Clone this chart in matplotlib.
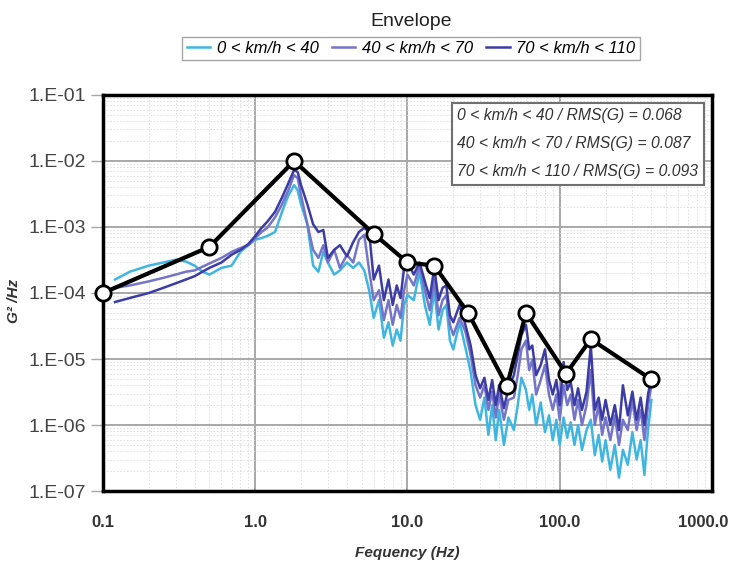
import matplotlib
matplotlib.use("Agg")
import matplotlib.pyplot as plt
from matplotlib.ticker import FixedLocator, LogLocator, NullFormatter
from matplotlib.transforms import ScaledTranslation

plt.rcParams['font.family'] = ['Liberation Sans', 'DejaVu Sans']

# frequency grid shared by the three speed bands (Hz)
freq = [0.12, 0.15, 0.2, 0.25, 0.3, 0.35, 0.4, 0.45, 0.5, 0.6,
        0.7, 0.8, 0.9, 1.0, 1.1, 1.2, 1.35, 1.5, 1.65, 1.8,
        1.9, 2.0, 2.2, 2.4, 2.6, 2.8, 3.0, 3.3, 3.6, 4.0,
        4.4, 4.8, 5.2, 5.6, 6.0, 6.5, 7.0, 7.5, 8.0, 8.5,
        9.0, 9.5, 10, 11, 12, 13, 14, 15, 16, 17,
        18, 19, 20, 22, 24, 26, 28, 30, 32, 34,
        36, 38, 40, 43, 46, 50, 53, 56, 60, 63,
        66, 70, 75, 80, 85, 90, 95, 100, 106, 112,
        118, 125, 132, 140, 150, 160, 170, 180, 190, 200,
        215, 230, 245, 260, 280, 300, 320, 340, 360, 380,
        400]

psd_0_40 = [1.6e-4, 2.1e-4, 2.6e-4, 2.9e-4, 3.2e-4, 3.0e-4, 2.6e-4, 2.1e-4, 1.9e-4, 2.4e-4,
            2.6e-4, 4.2e-4, 5.3e-4, 6.4e-4, 6.8e-4, 7.3e-4, 8.4e-4, 1.7e-3, 3.0e-3, 4.3e-3,
            3.6e-3, 2.2e-3, 1.1e-3, 2.6e-4, 2.1e-4, 4.2e-4, 2.9e-4, 1.9e-4, 2.2e-4, 2.9e-4,
            2.4e-4, 2.9e-4, 2.2e-4, 1.1e-4, 4.2e-5, 7.8e-5, 2.1e-5, 3.6e-5, 1.6e-5, 2.8e-5,
            1.9e-5, 6.6e-5, 9.3e-5, 7.8e-5, 2.1e-4, 6.6e-5, 3.3e-5, 1.1e-4, 2.8e-5, 5.5e-5,
            6.6e-5, 1.9e-5, 1.4e-5, 3.6e-5, 1.5e-5, 6.4e-6, 2.0e-6, 1.2e-6, 2.6e-6, 7.1e-7,
            2.0e-6, 5.9e-7, 1.7e-6, 5.0e-7, 1.3e-6, 8.4e-7, 2.0e-6, 5.2e-6, 3.4e-6, 1.7e-6,
            2.9e-6, 1.0e-6, 2.2e-6, 7.8e-7, 1.4e-6, 5.9e-7, 1.2e-6, 5.0e-7, 1.3e-6, 6.4e-7,
            1.1e-6, 5.0e-7, 1.0e-6, 4.2e-7, 8.4e-7, 1.2e-6, 3.5e-7, 7.1e-7, 2.8e-7, 5.9e-7,
            2.1e-7, 5.0e-7, 1.6e-7, 4.2e-7, 2.5e-7, 7.8e-7, 3.0e-7, 5.9e-7, 1.75e-7, 8.4e-7,
            2.4e-6]

psd_40_70 = [1.2e-4, 1.3e-4, 1.5e-4, 1.7e-4, 1.9e-4, 2.1e-4, 2.2e-4, 2.5e-4, 2.8e-4, 3.4e-4,
             4.2e-4, 4.8e-4, 5.3e-4, 6.8e-4, 8.4e-4, 9.7e-4, 1.4e-3, 2.2e-3, 3.6e-3, 6.1e-3,
             5.5e-3, 3.0e-3, 1.1e-3, 4.5e-4, 3.4e-4, 5.3e-4, 2.9e-4, 4.5e-4, 2.4e-4, 3.8e-4,
             2.9e-4, 6.4e-4, 7.6e-4, 2.2e-4, 7.8e-5, 1.1e-4, 3.9e-5, 7.8e-5, 3.3e-5, 6.6e-5,
             4.2e-5, 1.1e-4, 1.9e-4, 1.3e-4, 2.6e-4, 1.1e-4, 5.5e-5, 1.6e-4, 4.6e-5, 7.8e-5,
             9.3e-5, 3.3e-5, 2.3e-5, 4.2e-5, 2.6e-5, 1.15e-5, 4.0e-6, 2.6e-6, 4.0e-6, 1.7e-6,
             3.2e-6, 1.3e-6, 2.9e-6, 1.2e-6, 2.4e-6, 2.6e-6, 5.7e-6, 1.4e-5, 1.9e-5, 6.8e-6,
             9.7e-6, 2.9e-6, 4.8e-6, 8.1e-6, 2.9e-6, 1.7e-6, 2.9e-6, 1.2e-6, 4.0e-6, 2.0e-6,
             2.9e-6, 1.2e-6, 2.4e-6, 1.0e-6, 2.0e-6, 6.8e-6, 1.0e-6, 2.0e-6, 7.1e-7, 1.3e-6,
             5.9e-7, 1.4e-6, 5.0e-7, 1.2e-6, 8.4e-7, 2.4e-6, 8.4e-7, 1.7e-6, 5.9e-7, 2.0e-6,
             4.0e-6]

psd_70_110 = [7.3e-5, 8.4e-5, 1.0e-4, 1.2e-4, 1.4e-4, 1.6e-4, 1.8e-4, 2.1e-4, 2.4e-4, 2.9e-4,
              3.8e-4, 4.5e-4, 5.5e-4, 7.3e-4, 9.7e-4, 1.2e-3, 1.7e-3, 2.8e-3, 4.6e-3, 7.3e-3,
              6.8e-3, 4.3e-3, 2.2e-3, 1.1e-3, 8.4e-4, 9.0e-4, 3.4e-4, 4.5e-4, 5.3e-4, 3.6e-4,
              5.9e-4, 8.4e-4, 9.7e-4, 8.4e-4, 1.6e-4, 2.6e-4, 7.8e-5, 1.6e-4, 6.6e-5, 1.3e-4,
              8.4e-5, 2.4e-4, 2.9e-4, 1.9e-4, 2.9e-4, 1.5e-4, 8.4e-5, 2.4e-4, 7.8e-5, 1.2e-4,
              1.3e-4, 4.6e-5, 3.6e-5, 6.6e-5, 3.3e-5, 1.6e-5, 5.7e-6, 3.6e-6, 5.2e-6, 2.4e-6,
              4.8e-6, 2.0e-6, 4.0e-6, 1.8e-6, 3.6e-6, 5.7e-6, 1.15e-5, 2.3e-5, 3.3e-5, 1.4e-5,
              1.6e-5, 5.7e-6, 8.1e-6, 1.4e-5, 4.8e-6, 2.9e-6, 4.8e-6, 2.0e-6, 9.0e-6, 3.4e-6,
              4.5e-6, 2.0e-6, 3.6e-6, 1.7e-6, 3.2e-6, 1.6e-5, 1.7e-6, 2.6e-6, 1.2e-6, 2.4e-6,
              1.0e-6, 2.0e-6, 8.4e-7, 4.0e-6, 1.4e-6, 3.2e-6, 1.2e-6, 2.6e-6, 1.0e-6, 2.9e-6,
              5.2e-6]

# envelope points
env_freq = [0.1, 0.5, 1.8, 6.0, 10.0, 15.0, 25.0, 45.0, 60.0, 110.0, 160.0, 400.0]
env_psd = [1.0e-4, 5.0e-4, 1.0e-2, 7.9e-4, 2.9e-4, 2.6e-4, 5.0e-5, 3.9e-6, 5.0e-5, 6.0e-6, 2.0e-5, 4.9e-6]

labels = ["0 < km/h < 40", "40 < km/h < 70", "70 < km/h < 110"]
rms = ["0.068", "0.087", "0.093"]
colors = ["#3fb6e2", "#7474c8", "#3c3ca6"]

y_ticks = [1e-7, 1e-6, 1e-5, 1e-4, 1e-3, 1e-2, 1e-1]
y_ticklabels = ["1.E-07", "1.E-06", "1.E-05", "1.E-04", "1.E-03", "1.E-02", "1.E-01"]
x_ticks = [0.1, 1, 10, 100, 1000]
x_ticklabels = ["0.1", "1.0", "10.0", "100.0", "1000.0"]

fig = plt.figure(figsize=(7.34, 5.67), dpi=100)
ax = fig.add_axes([0.1403, 0.134, 0.8297, 0.6985])
ax.set_xscale('log')
ax.set_yscale('log')

for series, lab, col in zip([psd_0_40, psd_40_70, psd_70_110], labels, colors):
    ax.plot(freq, series, color=col, lw=1.8, label=lab, zorder=3)

ax.plot(env_freq, env_psd, color='black', lw=3, marker='o', markersize=11,
        markerfacecolor='white', markeredgecolor='black', markeredgewidth=2,
        zorder=5, clip_on=False)

ax.set_xlim(0.1, 1000)
ax.set_ylim(1e-7, 1e-1)

ax.xaxis.set_major_locator(FixedLocator(x_ticks))
ax.set_xticklabels(x_ticklabels)
ax.yaxis.set_major_locator(FixedLocator(y_ticks))
ax.set_yticklabels(y_ticklabels)
ax.xaxis.set_minor_locator(LogLocator(base=10, subs=range(2, 10)))
ax.yaxis.set_minor_locator(LogLocator(base=10, subs=range(2, 10)))
ax.xaxis.set_minor_formatter(NullFormatter())
ax.yaxis.set_minor_formatter(NullFormatter())

ax.grid(which='major', color='#a8a8a8', lw=1.4)
ax.grid(which='minor', color='#dcdcdc', lw=0.6, linestyle=(0, (2, 2)))
ax.set_axisbelow(True)

ax.tick_params(axis='x', which='both', length=0, pad=17, labelsize=12, labelcolor='#333333')
ax.tick_params(axis='y', which='major', length=9, width=1, color='#a8a8a8', pad=3,
               labelsize=14, labelcolor='#444444')
ax.tick_params(axis='y', which='minor', length=0)
xlbls = ax.get_xticklabels()
for lbl in xlbls:
    lbl.set_fontweight('bold')
# keep the last label inside the figure
xlbls[-1].set_transform(xlbls[-1].get_transform() + ScaledTranslation(-6 / 72, 0, fig.dpi_scale_trans))

for sp in ax.spines.values():
    sp.set_linewidth(2.5)
    sp.set_color('black')

ax.set_xlabel("Fequency (Hz)", fontsize=11, fontstyle='italic', fontweight='bold',
              color='#333333', labelpad=12)
ax.set_ylabel("G² /Hz", fontsize=11, fontstyle='italic', fontweight='bold', color='#333333')
ax.yaxis.set_label_coords(-0.135, 0.48)

box_text = "\n".join(f"{lab} / RMS(G) = {r}" for lab, r in zip(labels, rms))
ax.text(0.582, 0.966, box_text, transform=ax.transAxes, ha='left', va='top',
        fontsize=11.3, fontstyle='italic', color='#333333', linespacing=2.08, zorder=6,
        bbox=dict(boxstyle='square,pad=0.35', facecolor='white', edgecolor='#707070', lw=1.5))

fig.text(0.56, 0.962, "Envelope", ha='center', va='center', fontsize=14, color='#222222')
fig.legend(loc='center', bbox_to_anchor=(0.56, 0.915), ncol=3,
           prop={'style': 'italic', 'size': 12}, frameon=True, fancybox=False,
           edgecolor='#909090', handlelength=1.4, handletextpad=0.4, columnspacing=0.8,
           borderpad=0.25)

fig.savefig("out.png", dpi=100)
